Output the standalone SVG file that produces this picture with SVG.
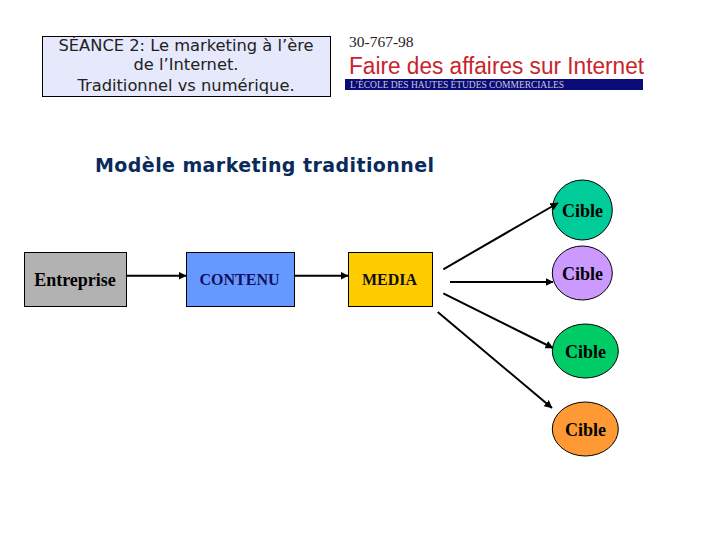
<svg xmlns="http://www.w3.org/2000/svg" width="720" height="540" viewBox="0 0 720 540">
<style>
.box{stroke:#000;stroke-width:1}
.lab{font-family:"Liberation Serif",serif;font-size:16px;font-weight:bold;text-anchor:middle}
.big{font-size:18px;fill:#000}
.ttl{font-family:"DejaVu Sans",sans-serif;font-size:16.3px;text-anchor:middle;fill:#222}
.cn{fill:none;stroke:#000;stroke-width:2;marker-end:url(#ah)}
</style>
<defs>
<marker id="ah" viewBox="0 0 8 8" refX="7.5" refY="4" markerWidth="4" markerHeight="4" orient="auto"><path d="M0 0L8 4L0 8Z" fill="#000"/></marker>
</defs>
<rect width="720" height="540" fill="#fff"/>
<g id="title">
<rect x="42.5" y="36.5" width="288" height="60" fill="#e6e9fb" stroke="#000"/>
<text class="ttl" x="186" y="51">SÉANCE 2: Le marketing à l’ère</text>
<text class="ttl" x="186" y="70">de l’Internet.</text>
<text class="ttl" x="186" y="91">Traditionnel vs numérique.</text>
</g>
<g id="logo">
<text x="349" y="47" font-family="Liberation Serif,serif" font-size="15.5" fill="#222">30-767-98</text>
<text x="349" y="74" font-family="Liberation Sans,sans-serif" font-size="23.5" fill="#c8242c" textLength="295" lengthAdjust="spacingAndGlyphs">Faire des affaires sur Internet</text>
<rect x="345" y="79" width="298" height="11" fill="#0a0a78"/>
<text x="350" y="88" font-family="Liberation Serif,serif" font-size="9.5" fill="#c8c8d8" textLength="214">L’ÉCOLE DES HAUTES ÉTUDES COMMERCIALES</text>
</g>
<text id="heading" x="95" y="172" font-family="DejaVu Sans,sans-serif" font-weight="bold" font-size="19" fill="#0a2a5c" textLength="339">Modèle marketing traditionnel</text>
<g id="entreprise"><rect class="box" x="24.5" y="252.5" width="102" height="54" fill="#b2b2b2"/><text class="lab big" x="75" y="285.7">Entreprise</text></g>
<g id="contenu"><rect class="box" x="186.5" y="252.5" width="108" height="54" fill="#6699ff"/><text class="lab" x="239.5" y="284.5" fill="#101060">CONTENU</text></g>
<g id="media"><rect class="box" x="348.5" y="252.5" width="84" height="54" fill="#ffcc00"/><text class="lab" x="389.5" y="284.5" fill="#101010">MEDIA</text></g>
<g id="cible1"><ellipse class="box" cx="582.3" cy="210" rx="30" ry="30" fill="#00cc99"/><text class="lab big" x="582.5" y="216.7">Cible</text></g>
<g id="cible2"><ellipse class="box" cx="582.3" cy="273" rx="30" ry="27" fill="#cc99ff"/><text class="lab big" x="582.5" y="279.5">Cible</text></g>
<g id="cible3"><ellipse class="box" cx="585.3" cy="351" rx="33" ry="27" fill="#00cc66"/><text class="lab big" x="585.5" y="357.7">Cible</text></g>
<g id="cible4"><ellipse class="box" cx="585.3" cy="429" rx="33" ry="27" fill="#ff9933"/><text class="lab big" x="585.5" y="435.7">Cible</text></g>
<g id="connectors">
<line class="cn" x1="127" y1="275.7" x2="186" y2="275.7"/>
<line class="cn" x1="294" y1="275.7" x2="348" y2="275.7"/>
<line class="cn" x1="443.3" y1="269.3" x2="558" y2="203"/>
<line class="cn" x1="450" y1="282" x2="553" y2="282"/>
<line class="cn" x1="443.3" y1="293.3" x2="553" y2="348"/>
<line class="cn" x1="437.7" y1="312" x2="552" y2="408"/>
</g>
</svg>
